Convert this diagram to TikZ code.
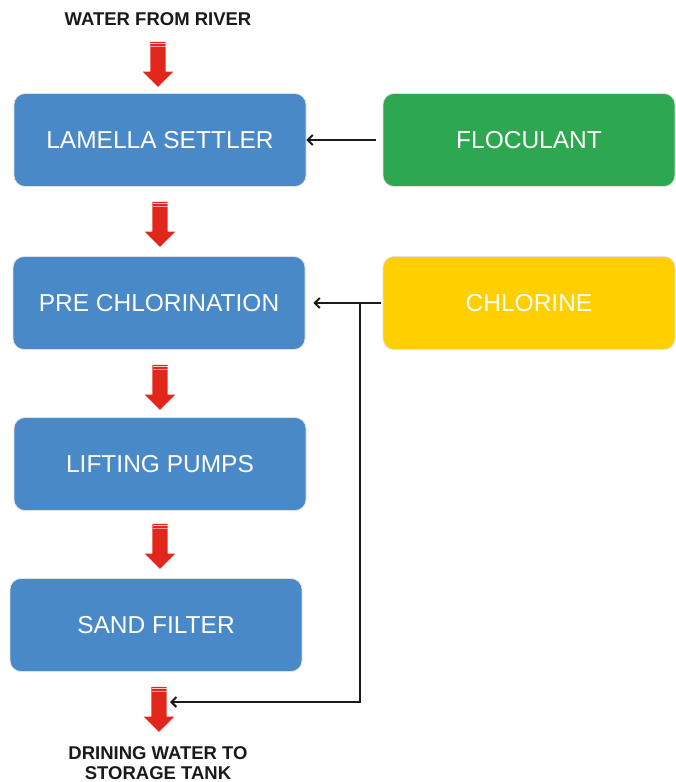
\documentclass[tikz,border=0pt]{standalone}
\usepackage{fontspec}
\setmainfont{Liberation Sans}
\usepackage{tikz}
\usetikzlibrary{arrows.meta,positioning,calc,shapes.arrows}
\definecolor{stepblue}{HTML}{4A89C8}
\definecolor{flocgreen}{HTML}{2EA850}
\definecolor{chlyellow}{HTML}{FFCF00}
\definecolor{flowred}{HTML}{E2261B}
\definecolor{ink}{HTML}{1A1A1A}
\tikzset{
  >=Latex,
  stage/.style={draw=black!12,line width=0.8pt,rounded corners=11pt,fill=stepblue,
    minimum width=292pt,minimum height=93pt,text=white,font=\fontsize{24.5}{29}\selectfont},
  dose/.style={stage,fill=flocgreen},
  dosey/.style={stage,fill=chlyellow},
  flow/.style={shape=single arrow,shape border rotate=270,fill=flowred,draw=none,
    inner sep=7.5pt,single arrow head extend=7.5pt,single arrow head indent=0pt,
    minimum height=45pt},
  caption/.style={font=\bfseries\fontsize{18.5}{20.5}\selectfont,text=ink,align=center},
  feed/.style={-{Straight Barb[length=5pt,width=10pt]},line width=2pt,draw=ink}
}

\begin{document}
\begin{tikzpicture}[x=1pt,y=-1pt]
  \useasboundingbox (0,0) rectangle (675,782);

  \node[caption] (river) at (158,19) {WATER FROM RIVER};

  \node[stage] (settler) at (160,140) {LAMELLA SETTLER};
  \node[stage] (prechlor) at (159,303) {PRE CHLORINATION};
  \node[stage] (pumps) at (160,464) {LIFTING PUMPS};
  \node[stage] (filter) at (156,625) {SAND FILTER};

  \node[dose] (floc) at (529,140) {FLOCULANT};
  \node[dosey] (chlorine) at (529,303) {CHLORINE};

  % red flow arrows between the stages
  \foreach \i/\x/\y in {1/158/60.5,2/160/220.5,3/160/383.5,4/160/542.5,5/159/705.5}{
    \node[flow] (a\i) at (\x,\y) {};
    \draw[white,opacity=.75,line width=.8pt] ([xshift=-7.5pt,yshift=-2pt]a\i.tail) -- ++(15,0);
    \draw[white,opacity=.55,line width=.7pt] ([xshift=-7.5pt,yshift=-4.5pt]a\i.tail) -- ++(15,0);
  }

  \node[caption] (tank) at (158,763) {DRINING WATER TO\\STORAGE TANK};

  % dosing lines
  \draw[feed,shorten <=7pt] (floc.west) -- (floc.west -| settler.east);
  \draw[feed,shorten <=2pt,shorten >=8pt] (chlorine.west) -- (chlorine.west -| prechlor.east);
  \coordinate (tap) at ($(chlorine.west)+(-23,0)$);
  \coordinate (outlet) at (170,702);
  \draw[feed,line cap=rect] (tap) |- (outlet);
\end{tikzpicture}
\end{document}
